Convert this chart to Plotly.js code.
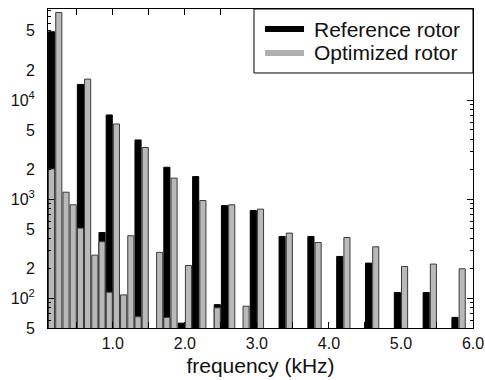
<!DOCTYPE html>
<html>
<head>
<meta charset="utf-8">
<script src="https://cdn.plot.ly/plotly-3.0.1.min.js"></script>
<style>
html,body{margin:0;padding:0;background:#fff;}
#chart{width:485px;height:380px;}
</style>
</head>
<body>
<div id="chart"></div>
<script>
// frequency bins (kHz)
const freq = [0.15,0.25,0.35,0.45,0.55,0.65,0.75,0.85,0.95,1.05,1.15,1.25,1.35,1.45,1.65,1.75,1.85,1.95,2.05,2.15,2.25,2.45,2.55,2.65,2.85,2.95,3.05,3.35,3.45,3.75,3.85,4.15,4.25,4.55,4.65,4.95,5.05,5.35,5.45,5.75,5.85];
// reference rotor amplitudes (null = not visible)
const referenceRotor = [49000,null,null,null,14400,null,null,460,7080,null,null,null,3960,null,null,2100,null,56,null,1690,null,86,861,null,null,768,null,420,null,420,null,264,null,226,null,114,null,114,null,64,null];
// optimized rotor amplitudes
const optimizedRotor = [2020,76700,1175,877,510,16300,272,372,115,5740,108,427,65,3320,290,64,1630,null,214,null,968,80,null,877,83,null,793,null,454,null,365,null,410,null,330,null,209,null,221,null,198];

const seriesNames = ['Reference rotor','Optimized rotor'];
const seriesColors = ['#000000','#b0b0b0'];

const xTickVals = [1,2,3,4,5,6];
const xTickText = ['1.0','2.0','3.0','4.0','5.0','6.0'];
const xMinorVals = [0.5,1.5,2.5,3.5,4.5,5.5];
const yTickVals = [50,100,200,500,1000,2000,5000,10000,20000,50000];
const yTickText = ['5','10<sup>2</sup>','2','5','10<sup>3</sup>','2','5','10<sup>4</sup>','2','5'];
const yMinorVals = [];
[10,100,1000,10000].forEach(d=>{for(let m=2;m<=9;m++){yMinorVals.push(m*d);}});
const yDecades = [100,1000,10000];

const font = 'Liberation Sans, Arial, Helvetica, sans-serif';
const barW = 0.085;

const traces = [
  {type:'bar', x:freq, y:referenceRotor, width:barW, showlegend:false,
   marker:{color:'#000000', line:{color:'#000000', width:1}}, name:seriesNames[0]},
  {type:'bar', x:freq, y:optimizedRotor, width:barW, showlegend:false,
   marker:{color:'#b9b9b9', line:{color:'#3a3a3a', width:1}}, name:seriesNames[1]},
  {type:'scatter', mode:'lines', x:[null], y:[null], yaxis:'y2', showlegend:false, hoverinfo:'skip'}
];

// legend box drawn in paper coordinates (plot area = paper [0,1])
const legBox = {x0:0.4847, x1:1.0, y0:0.7994, y1:1.0};
const legRows = [0.9373, 0.8621];
const legLineX = [0.5106, 0.6024];
const legTextX = 0.6212;

const shapes = [
  {type:'rect', xref:'paper', yref:'paper', x0:legBox.x0, x1:legBox.x1, y0:legBox.y0, y1:legBox.y1,
   line:{color:'#000', width:1}, fillcolor:'#ffffff', layer:'above'}
];
const annotations = [];
seriesNames.forEach((n,i)=>{
  shapes.push({type:'line', xref:'paper', yref:'paper', x0:legLineX[0], x1:legLineX[1], y0:legRows[i], y1:legRows[i],
               line:{color:seriesColors[i], width:6}, layer:'above'});
  annotations.push({xref:'paper', yref:'paper', x:legTextX, y:legRows[i], xanchor:'left', yanchor:'middle',
               text:n, showarrow:false, font:{size:21, family:font, color:'#111'}});
});

const layout = {
  width:485, height:380,
  margin:{l:48, r:12, t:9, b:52},
  paper_bgcolor:'#ffffff', plot_bgcolor:'#ffffff',
  barmode:'overlay',
  font:{family:font, color:'#111111', size:16},
  showlegend:false,
  shapes:shapes, annotations:annotations,
  xaxis:{range:[0.1,6.0], showgrid:false, zeroline:false,
         showline:true, linecolor:'#000', linewidth:1, mirror:'ticks',
         ticks:'inside', ticklen:6, tickcolor:'#000', tickwidth:1,
         tickmode:'array', tickvals:xTickVals, ticktext:xTickText,
         tickfont:{size:16, family:font, color:'#111'}, ticklabelstandoff:1,
         minor:{ticks:'inside', ticklen:6, tickcolor:'#000', tickwidth:1, tickmode:'array', tickvals:xMinorVals, showgrid:false},
         title:{text:'frequency (kHz)', font:{size:21, family:font, color:'#111'}, standoff:7},
         automargin:false},
  yaxis:{type:'log', range:[Math.log10(50), 4.92], showgrid:false, zeroline:false,
         showline:true, linecolor:'#000', linewidth:1, mirror:'ticks',
         ticks:'inside', ticklen:3, tickcolor:'#000', tickwidth:1,
         tickmode:'array', tickvals:yTickVals, ticktext:yTickText,
         tickfont:{size:16, family:font, color:'#111'}, ticklabelstandoff:9,
         minor:{ticks:'inside', ticklen:3, tickcolor:'#000', tickwidth:1, tickmode:'array', tickvals:yMinorVals, showgrid:false},
         automargin:false},
  yaxis2:{type:'log', range:[Math.log10(50), 4.92], overlaying:'y', side:'left',
          showgrid:false, zeroline:false, showline:false, mirror:'ticks',
          ticks:'inside', ticklen:6, tickcolor:'#000', tickwidth:1,
          tickmode:'array', tickvals:yDecades, showticklabels:false, automargin:false}
};

Plotly.newPlot('chart', traces, layout, {displayModeBar:false, staticPlot:true});
</script>
</body>
</html>
